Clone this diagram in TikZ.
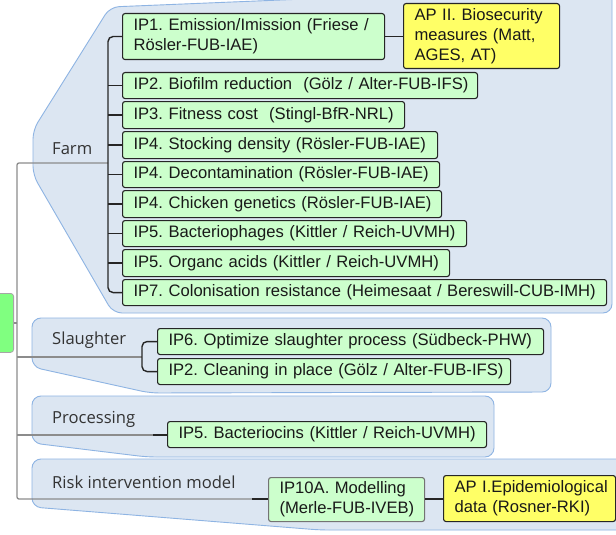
\documentclass[tikz,border=0pt]{standalone}
\usepackage{fontspec}
\setmainfont{Liberation Sans}
\newfontfamily\regionfont{Open Sans}
\definecolor{regfill}{HTML}{DCE6F2}
\definecolor{regdraw}{HTML}{8EB4E3}
\definecolor{boxgreen}{HTML}{CCFFCC}
\definecolor{rootgreen}{HTML}{80FF80}
\definecolor{apyellow}{HTML}{FFFF66}
\definecolor{linegray}{HTML}{8C8C8C}
\definecolor{labelgray}{HTML}{333333}
\newcommand\boxfont{\frenchspacing\fontsize{16.6}{20}\selectfont}
\begin{document}
\begin{tikzpicture}[x=1pt,y=-1pt,
  region/.style={draw=regdraw, fill=regfill, line width=0.9pt, rounded corners=9pt},
  reglabel/.style={font=\regionfont\fontsize{16.6}{18}\selectfont, text=labelgray, anchor=west, inner sep=0pt},
  gbox/.style={draw=black!85, fill=boxgreen, line width=1.1pt, rounded corners=2.5pt, anchor=north west,
    inner xsep=11pt, inner ysep=0pt, align=left, font=\boxfont, text=black!90},
  ybox/.style={gbox, fill=apyellow},
  gline/.style={draw=linegray, line width=1.3pt},
  bline/.style={draw=black!85, line width=1.4pt},
]
\clip (0,0) rectangle (616,535);
\fill[white] (0,0) rectangle (616,535);

% regions
\path[region] (612,-12) -- (612,313) -- (113,313) -- (33,175) -- (33,130) -- (110,7) -- (330,-2) -- (640,-2) -- (640,-12) -- cycle;
\path[region] (32,318) -- (551,318) -- (551,392) -- (150,393) -- (32,367) -- cycle;
\path[region] (32,396) -- (494,396) -- (494,457) -- (147,457) -- (32,443) -- cycle;
\path[region] (32,459) -- (640,459) -- (640,530) -- (320,530) -- (32,507) -- cycle;

% region labels
\node[reglabel] (lfarm) at (52,149) {Farm};
\node[reglabel] (lslau) at (52,340) {Slaughter};
\node[reglabel] (lproc) at (52,419) {Processing};
\node[reglabel] (lrisk) at (52,482) {Risk intervention model};

% root
\node[draw=black!35, fill=rootgreen, line width=0.8pt, rounded corners=3pt, anchor=north east,
  minimum width=40pt, minimum height=59pt, inner sep=0pt] (root) at (14,293) {};

% farm boxes
\node[gbox, text width=240pt, minimum height=46pt] (ip1) at (122,13)
  {\mbox{IP1. Emission/Imission (Friese /}\\\mbox{Rösler-FUB-IAE)}};
\node[ybox, text width=134pt, minimum height=65pt] (ap2) at (403,3)
  {\mbox{AP II. Biosecurity}\\\mbox{measures (Matt,}\\\mbox{AGES, AT)}};
\node[gbox, text width=333pt, minimum height=26pt] (ip2) at (122,72) {\mbox{IP2. Biofilm reduction\ \ (Gölz / Alter-FUB-IFS)}};
\node[gbox, text width=260pt, minimum height=27pt] (ip3) at (122,101) {\mbox{IP3. Fitness cost\ \ (Stingl-BfR-NRL)}};
\node[gbox, text width=293pt, minimum height=27pt] (ip4s) at (122,131) {\mbox{IP4. Stocking density (Rösler-FUB-IAE)}};
\node[gbox, text width=295pt, minimum height=26pt] (ip4d) at (122,161) {\mbox{IP4. Decontamination (Rösler-FUB-IAE)}};
\node[gbox, text width=297pt, minimum height=27pt] (ip4c) at (122,190) {\mbox{IP4. Chicken genetics (Rösler-FUB-IAE)}};
\node[gbox, text width=322pt, minimum height=26pt] (ip5b) at (122,220) {\mbox{IP5. Bacteriophages (Kittler / Reich-UVMH)}};
\node[gbox, text width=305pt, minimum height=27pt] (ip5o) at (122,249) {\mbox{IP5. Organc acids (Kittler / Reich-UVMH)}};
\node[gbox, text width=462pt, minimum height=26pt] (ip7) at (122,279) {\mbox{IP7. Colonisation resistance (Heimesaat / Bereswill-CUB-IMH)}};

% slaughter boxes
\node[gbox, text width=364pt, minimum height=26pt] (ip6) at (157,328) {\mbox{IP6. Optimize slaughter process (Südbeck-PHW)}};
\node[gbox, text width=331pt, minimum height=26pt] (ip2c) at (157,358) {\mbox{IP2. Cleaning in place (Gölz / Alter-FUB-IFS)}};

% processing box
\node[gbox, text width=297pt, minimum height=26pt] (ip5bc) at (167,421) {\mbox{IP5. Bacteriocins (Kittler / Reich-UVMH)}};

% risk boxes
\node[gbox, draw=black!55, text width=134pt, minimum height=44pt] (ip10) at (268,477)
  {\mbox{IP10A. Modelling}\\\mbox{(Merle-FUB-IVEB)}};
\node[ybox, text width=150pt, minimum height=46pt] (ap1) at (443,475)
  {\mbox{AP I.Epidemiological}\\\mbox{data (Rosner-RKI)}};

% junction coordinates
\coordinate (tfarm) at (17,163);
\coordinate (troot) at (17,323);
\coordinate (tslau) at (17,357);
\coordinate (tproc) at (17,435);
\coordinate (trisk) at (17,499);
\coordinate (jfarm) at (108,163);
\coordinate (jslau) at (142,357);
\coordinate (jproc) at (153,435);
\coordinate (jrisk) at (252,499);

% gray trunk
\draw[gline] (root.east |- troot) -- (troot);
\draw[gline, rounded corners=2pt] (jfarm) -- (tfarm) -- (trisk) -- (jrisk);
\draw[gline] (tslau) -- (jslau);
\draw[gline] (tproc) -- (jproc);

% farm bracket
\draw[bline, rounded corners=5pt] (ip1.west) -| (jfarm) |- (ip7.west);
\foreach \n in {ip2,ip3,ip4s,ip4d,ip4c,ip5b,ip5o}
  \draw[bline] (\n.west) -- (\n.west -| jfarm);
\draw[bline] (ip1.east) -- (ip1.east -| ap2.west);

% slaughter bracket
\draw[bline, rounded corners=5pt] (ip6.west) -| (jslau) |- (ip2c.west);

% processing & risk
\draw[bline] (jproc) -- (ip5bc.west |- jproc);
\draw[bline] (jrisk) -- (ip10.west |- jrisk);
\draw[bline] (ip10.east |- jrisk) -- (ap1.west |- jrisk);
\end{tikzpicture}
\end{document}
